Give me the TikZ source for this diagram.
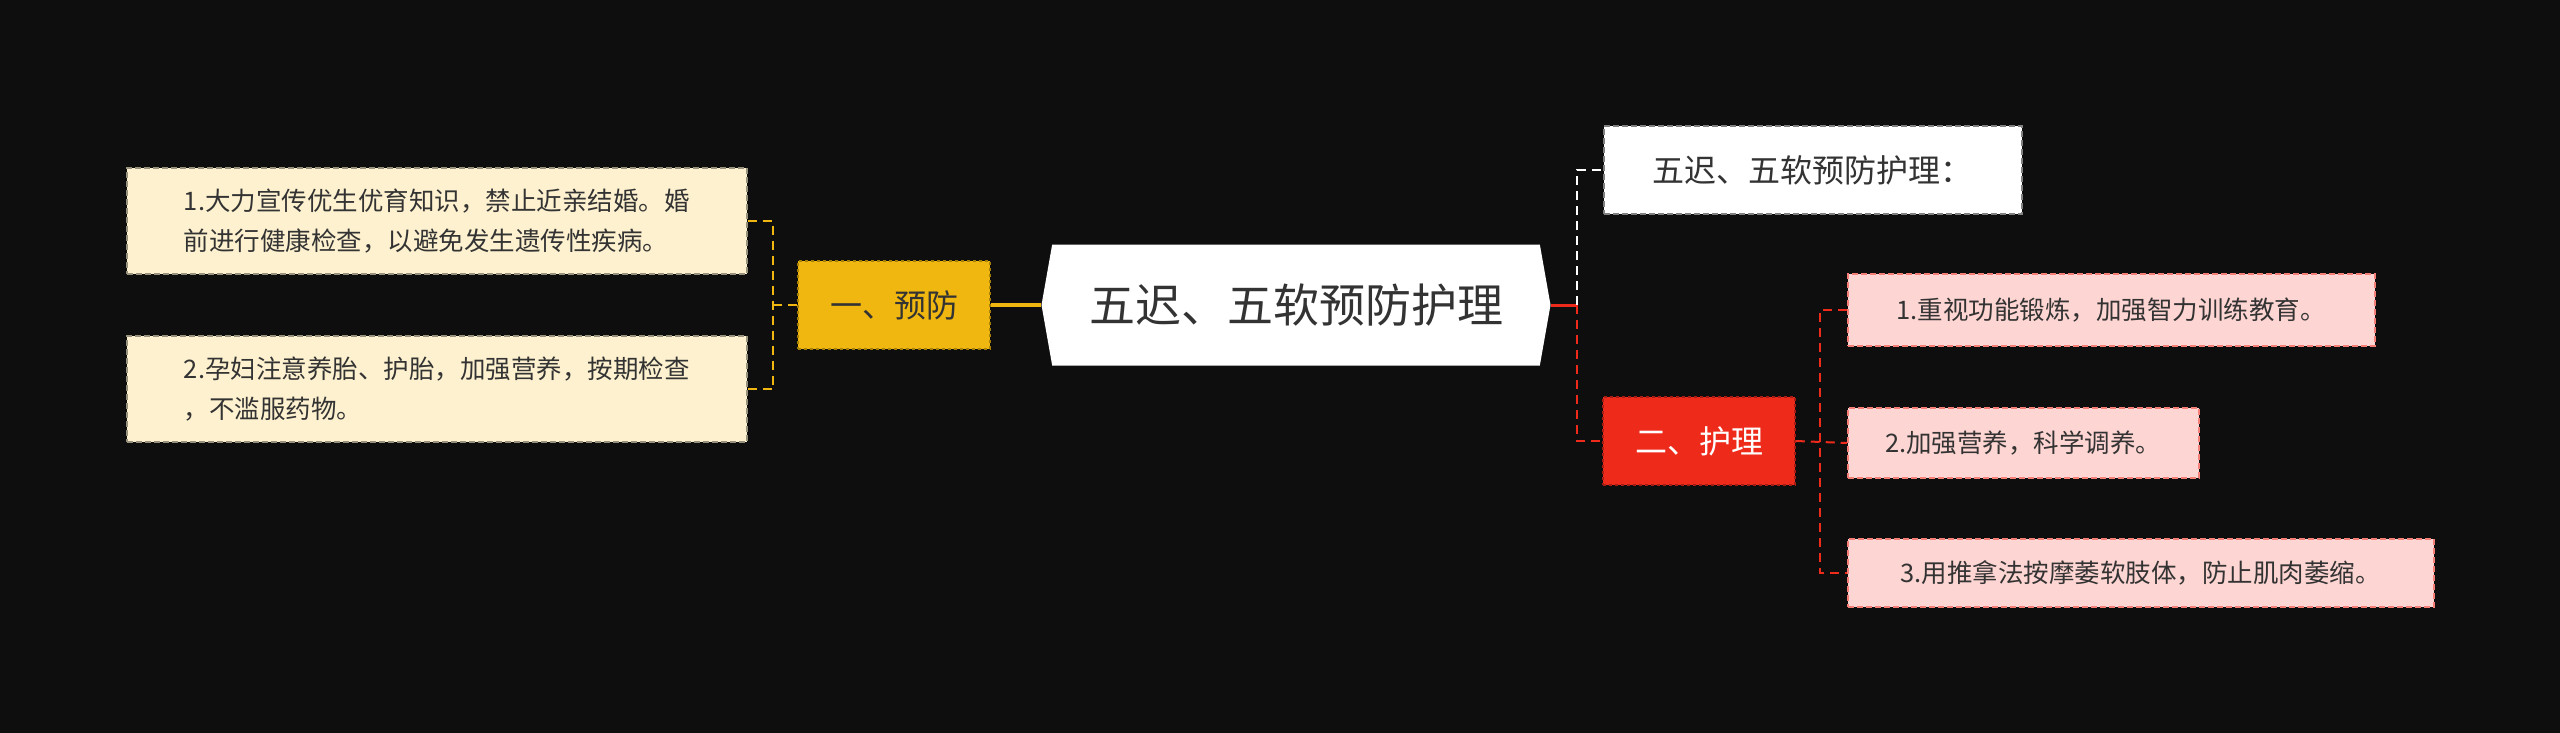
\documentclass[tikz,border=0pt]{standalone}
\usepackage{fontspec}
\setmainfont{Noto Sans CJK SC}
\usetikzlibrary{shapes.symbols}
\definecolor{bg}{HTML}{0E0E0E}
\definecolor{yel}{HTML}{EFB70F}
\definecolor{cream}{HTML}{FDF1CF}
\definecolor{redc}{HTML}{EE2A1B}
\definecolor{pink}{HTML}{FDD5D2}
\definecolor{txt}{HTML}{333333}
\tikzset{
  leaf/.style={draw=#1, dashed, dash pattern=on 6pt off 3pt, line width=1.5pt, anchor=west, align=left, text=txt, inner xsep=14pt, inner ysep=10pt},
  conn/.style={draw=#1, dashed, dash pattern=on 9pt off 6pt, line width=2pt},
}
\begin{document}
\begin{tikzpicture}[x=1pt,y=-1pt]
\fill[bg] (0,0) rectangle (2560,733);
\useasboundingbox (0,0) rectangle (2560,733);
% center
\node[signal, signal to=west and east, signal pointer angle=160, fill=white, minimum width=509pt, minimum height=121pt, font=\fontsize{46}{52}\selectfont, text=txt, inner sep=0pt] (c) at (1296,305) {五迟、五软预防护理};
% left branch
\node[fill=yel, draw=yel!70!black, dashed, line width=1.5pt, minimum width=192pt, minimum height=88pt, font=\fontsize{32}{38}\selectfont, text=txt] (p) at (894,305) {一、预防};
\node[leaf=cream!60!black, fill=cream, minimum width=620pt, minimum height=106pt, font=\fontsize{25.5}{40}\selectfont] (l1) at (126,221) {1.大力宣传优生优育知识，禁止近亲结婚。婚\\前进行健康检查，以避免发生遗传性疾病。};
\node[leaf=cream!60!black, fill=cream, minimum width=620pt, minimum height=106pt, font=\fontsize{25.5}{40}\selectfont] (l2) at (126,389) {2.孕妇注意养胎、护胎，加强营养，按期检查\\，不滥服药物。};
\draw[yel, line width=4pt] (c.west) -- (p.east);
\coordinate (lj) at (773,305);
\draw[conn=yel] (p.west) -- (lj);
\draw[conn=yel] (l1.east) -| (lj) |- (l2.east);
% right branch
\node[leaf=gray, fill=white, minimum width=418pt, minimum height=88pt, font=\fontsize{32}{38}\selectfont] (t) at (1603,170) {五迟、五软预防护理：};
\node[fill=redc, draw=redc!70!black, dashed, line width=1.5pt, minimum width=192pt, minimum height=88pt, font=\fontsize{32}{38}\selectfont, text=white] (h) at (1699,441) {二、护理};
\coordinate (rj) at (1577,305);
\draw[redc, line width=3pt] (c.east) -- (rj);
\draw[conn=white] (rj) |- (t.west);
\draw[conn=redc] (rj) |- (h.west);
\node[leaf=redc!60, fill=pink, minimum width=527pt, minimum height=72pt, font=\fontsize{25.5}{30}\selectfont] (r1) at (1847,310) {1.重视功能锻炼，加强智力训练教育。};
\node[leaf=redc!60, fill=pink, minimum width=351pt, minimum height=70pt, font=\fontsize{25.5}{30}\selectfont] (r2) at (1847,443) {2.加强营养，科学调养。};
\node[leaf=redc!60, fill=pink, minimum width=586pt, minimum height=68pt, font=\fontsize{25.5}{30}\selectfont] (r3) at (1847,573) {3.用推拿法按摩萎软肢体，防止肌肉萎缩。};
\coordinate (hj) at (1820,441);
\draw[conn=redc] (h.east) -- (r2.west);
\draw[conn=redc] (r1.west) -| (hj) |- (r3.west);
\end{tikzpicture}
\end{document}
